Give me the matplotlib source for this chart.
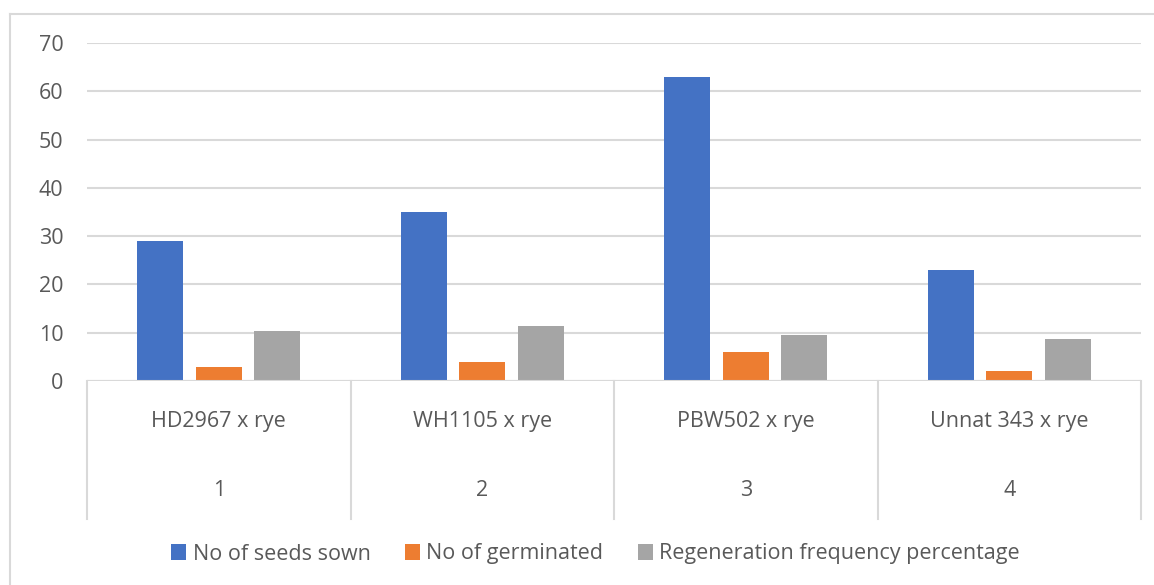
import matplotlib.pyplot as plt
import numpy as np
from matplotlib.lines import Line2D
from matplotlib.patches import Patch

plt.rcParams['font.family'] = ['Open Sans', 'DejaVu Sans']

crosses = ["HD2967 x rye", "WH1105 x rye", "PBW502 x rye", "Unnat 343 x rye"]
numbers = ["1", "2", "3", "4"]
series_names = ["No of seeds sown", "No of germinated", "Regeneration frequency percentage"]
seeds_sown = [29, 35, 63, 23]
germinated = [3, 4, 6, 2]
regen_pct = [10.34, 11.43, 9.52, 8.7]

colors = ["#4472c4", "#ed7d31", "#a5a5a5"]
grid_c = "#d9d9d9"
text_c = "#595959"
fs = 15.5

W, H = 1154, 585
fig = plt.figure(figsize=(W / 100, H / 100), dpi=100)
left, right, top, bottom = 87, 1141, 43, 381
ax = fig.add_axes([left / W, 1 - bottom / H, (right - left) / W, (bottom - top) / H])

# outer chart frame (only top and left visible in the source)
fig.add_artist(Line2D([9.5 / W, 9.5 / W], [0, 1 - 13.5 / H], color=grid_c, lw=1.5))
fig.add_artist(Line2D([9.5 / W, 1], [1 - 13.5 / H, 1 - 13.5 / H], color=grid_c, lw=1.5))

x = np.arange(len(crosses))
width = 0.175
offsets = [-0.222, 0, 0.222]
for vals, off, c in zip([seeds_sown, germinated, regen_pct], offsets, colors):
    ax.bar(x + off, vals, width, color=c, zorder=3)

ax.set_xlim(-0.5, len(crosses) - 0.5)
ax.set_ylim(0, 70)
ax.set_yticks(np.arange(0, 71, 10))
ax.yaxis.grid(True, color=grid_c, lw=1.5, zorder=0)
ax.tick_params(axis='y', length=0, pad=17, labelsize=fs, labelcolor=text_c)
ax.set_xticks([])
for s in ax.spines.values():
    s.set_visible(False)
ax.axhline(0, color=grid_c, lw=1.5, zorder=4)

# multi-level category axis
tr = ax.get_xaxis_transform()
h = bottom - top
div_bot = -(519 - bottom) / h
for b in np.arange(len(crosses) + 1) - 0.5:
    ax.plot([b, b], [0, div_bot], transform=tr, color=grid_c, lw=1.5, clip_on=False)
for i, (name, num) in enumerate(zip(crosses, numbers)):
    ax.text(i, -(421 - bottom) / h, name, transform=tr, ha='center', va='center',
            fontsize=fs, color=text_c)
    ax.text(i, -(490 - bottom) / h, num, transform=tr, ha='center', va='center',
            fontsize=fs, color=text_c)

handles = [Patch(facecolor=c) for c in colors]
fig.legend(handles, series_names, loc='center', bbox_to_anchor=(0.516, 1 - 554 / H),
           ncol=3, frameon=False, fontsize=fs, labelcolor=text_c,
           handlelength=0.7, handleheight=0.7, handletextpad=0.3, columnspacing=1.6)

fig.savefig("out.png", dpi=100, facecolor='white')
